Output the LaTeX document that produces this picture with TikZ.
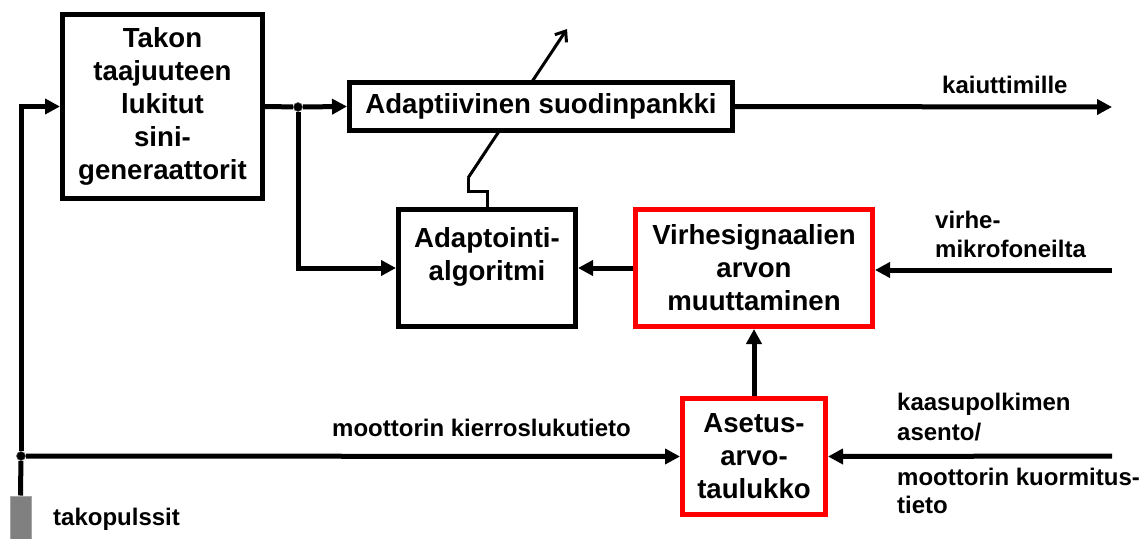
\documentclass[tikz,border=0pt]{standalone}
\usepackage{fontspec}
\setmainfont{Liberation Sans}
\usetikzlibrary{arrows.meta}
\begin{document}
\begin{tikzpicture}[x=1pt,y=-1pt,
  blk/.style={draw=black,line width=5pt,fill=white,inner sep=0pt,align=center,
    font=\bfseries\fontsize{27.6}{33}\selectfont},
  redblk/.style={blk,draw=red},
  lbl/.style={font=\bfseries\fontsize{24}{29}\selectfont,inner sep=0pt,align=left},
  wire/.style={line width=5pt},
  conn/.style={line width=5pt,-{Triangle[length=15pt,width=15pt]}},
  thinwire/.style={line width=3pt},
  dotnode/.style={circle,fill=black,draw=black!60,line width=0.6pt,inner sep=0pt,minimum size=9pt},
  pulsebox/.style={rectangle,fill=black!50,draw=black!35,line width=1pt,inner sep=0pt,minimum width=21pt,minimum height=43pt}
]
\useasboundingbox (0,0) rectangle (1145,538);

% adjustment arrow (behind the filter bank box)
\coordinate (dgA) at (468,178);
\coordinate (dgB) at (567,29);
\draw[thinwire,-{Straight Barb[length=9pt,width=14pt]}] (dgA) -- (dgB);

% blocks
\node[blk,minimum width=200pt,minimum height=184pt] (gen) at (162.5,106.5)
  {Takon\\taajuuteen\\lukitut\\sini-\\generaattorit};
\node[blk,minimum width=383pt,minimum height=48pt] (bank) at (541,106.5)
  {Adaptiivinen suodinpankki};
\node[blk,minimum width=177pt,minimum height=117pt] (alg) at (487,268)
  {Adaptointi-\\algoritmi\\[-4pt]{}};
\node[redblk,minimum width=237pt,minimum height=117pt] (err) at (754,268)
  {Virhesignaalien\\arvon\\muuttaminen};
\node[redblk,minimum width=143pt,minimum height=116pt] (tab) at (754,456.5)
  {Asetus-\\arvo-\\taulukko};

% junctions and pulse source
\node[dotnode] (j1) at (298,107) {};
\node[dotnode] (j2) at (21,456) {};
\node[pulsebox] (pul) at (20.5,517.5) {};

% free ends
\coordinate (outR) at (1112,107);
\coordinate (micR) at (1112,270);
\coordinate (gasR) at (1112,456);

% connectors
\draw[wire] (gen.east) -- (j1);
\draw[conn] (j1) -- (bank.west);
\draw[conn] (j1) |- (alg.west);
\draw[conn] (bank.east) -- (outR);
\draw[conn] (err.west) -- (alg.east);
\draw[conn] (micR) -- (err.east |- micR);
\draw[conn] (tab.north) -- (err.south -| tab.north);
\draw[conn] (gasR) -- (tab.east);
\draw[wire] (pul.north) -- (j2);
\draw[conn] (j2) |- (gen.west);
\draw[conn] (j2) -- (tab.west);
\draw[thinwire] (alg.north) -- ++(0,-16) -| (dgA);

% labels
\node[lbl,anchor=base west] (lk) at (942,93) {kaiuttimille};
\node[lbl,anchor=base west] (lm) at (332,436) {moottorin kierroslukutieto};
\node[lbl,anchor=base west] (lv1) at (935,228) {virhe-};
\node[lbl,anchor=base west] (lv2) at (935,257) {mikrofoneilta};
\node[lbl,anchor=base west] (lg1) at (897,410) {kaasupolkimen};
\node[lbl,anchor=base west] (lg2) at (897,440) {asento/};
\node[lbl,anchor=base west] (lg3) at (897,485) {moottorin kuormitus-};
\node[lbl,anchor=base west] (lg4) at (897,513) {tieto};
\node[lbl,anchor=base west] (lt) at (53,525) {takopulssit};
\end{tikzpicture}
\end{document}
